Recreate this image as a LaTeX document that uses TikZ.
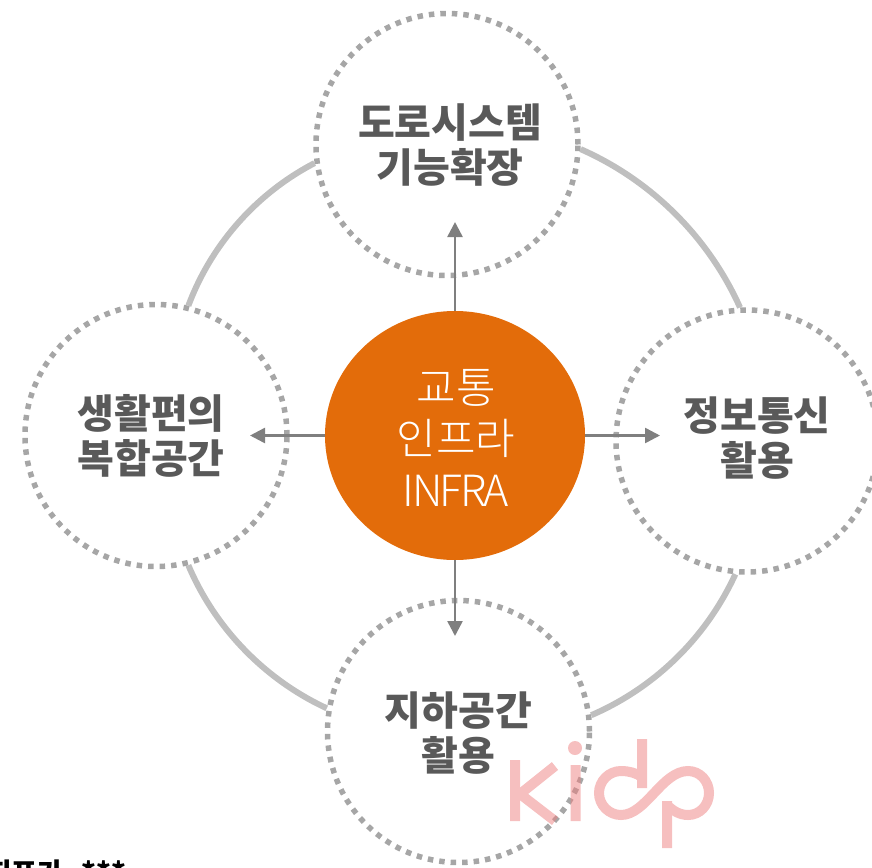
\documentclass[tikz,border=0pt]{standalone}
\usepackage{fontspec}
\setmainfont{Noto Sans CJK KR}
\newfontfamily\hubfont{Noto Sans CJK KR Light}
\newfontfamily\hublatin[LetterSpace=-6]{Noto Sans CJK KR Light}
\usetikzlibrary{positioning}
\usetikzlibrary{arrows.meta}
\usetikzlibrary{shapes.geometric}
\definecolor{hubcolor}{HTML}{E36C0A}
\definecolor{dotcolor}{HTML}{A6A6A6}
\definecolor{ringcolor}{HTML}{BFBFBF}
\definecolor{spokecolor}{HTML}{7F7F7F}
\definecolor{labelcolor}{HTML}{595959}
\definecolor{logocolor}{HTML}{ED7F7F}
\tikzset{
    topic/.style={draw=dotcolor, line width=5.5pt, dash pattern=on 5.5pt off 6pt, circle, minimum size=262pt},
    topictext/.style={align=center, text=labelcolor, font=\fontsize{40pt}{45pt}\selectfont\bfseries},
    hub/.style={fill=hubcolor, ellipse, minimum width=260pt, minimum height=249pt},
    hubtext/.style={align=center, text=white, font=\fontsize{43pt}{51.5pt}\selectfont\hubfont},
    ring/.style={draw=ringcolor, line width=6pt},
    spoke/.style={draw=spokecolor, line width=2.5pt, -{Triangle[length=15pt,width=15pt]}},
    logo/.style={draw=logocolor, line width=10pt}
}
\begin{document}
\begin{tikzpicture}[on grid]
    \useasboundingbox (0,0) rectangle (872pt,-867pt);
    % hub
    \node [hub] (infra) at (455pt,-435.5pt) {};
    \node [hubtext, below right=2pt and 1pt of infra] (infra_text) {교통\\인프라\\{\hublatin INFRA}};
    % topics
    \node [topic, above left=291pt and 8pt of infra] (road) {};
    \node [topic, left=299pt of infra] (life) {};
    \node [topic, below right=5.5pt and 292pt of infra] (ict) {};
    \node [topic, below right=296pt and 3.5pt of infra] (under) {};

    \node [topictext, below right=1pt and 3pt of road] (road_text) {도로시스템\\기능확장};
    \node [topictext, left=5pt of life] (life_text) {생활편의\\복합공간};
    \node [topictext, below right=-3pt and 10pt of ict] (ict_text) {정보통신\\활용};
    \node [topictext, below=2pt of under] (under_text) {지하공간\\활용};

    \coordinate[above=213.5pt of infra] (road_tip);
    \coordinate[left=205pt of infra] (life_tip);
    \coordinate[right=205pt of infra] (ict_tip);
    \coordinate[below=200.5pt of infra] (under_tip);

    % ring
    \draw[ring] (road.-2) to[bend left=21, looseness=.88] (ict.93);
    \draw[ring] (ict.-95) to[bend left=21, looseness=.88] (under.7);
    \draw[ring] (under.170) to[bend left=21, looseness=.88] (life.-76);
    \draw[ring] (life.76) to[bend left=21, looseness=.88] (road.-172);

    % spokes
    \draw[spoke] (infra) -- (road_tip);
    \draw[spoke] (infra) -- (life_tip);
    \draw[spoke] (infra) -- (ict_tip);
    \draw[spoke] (infra) -- (under_tip);

    % cut-off line
    \node [anchor=base west, inner sep=0pt, font=\fontsize{28pt}{28pt}\selectfont\bfseries] (note) at (-14pt,-883pt) {지표가\hspace{12pt} ***};

    % logo
    \begin{scope}[x=1pt,y=-1pt,opacity=.5,transparency group]
        \draw[logo] (515,760) -- (515,821);
        \draw[logo] (555,766) -- (520,794) -- (555,821);
        \draw[logo] (575.5,765) -- (575.5,821);
        \fill[logocolor] (575,748) circle (7);
        \draw[logo] (642,739) -- (642,788);
        \draw[logo] (642,777) .. controls (636,773) and (629,771) .. (621,771)
            .. controls (609,771) and (599,781) .. (599,793)
            .. controls (599,805) and (609,815) .. (621,815)
            .. controls (646,815) and (662,771) .. (688,771)
            .. controls (700,771) and (709,781) .. (709,793)
            .. controls (709,805) and (700,815) .. (688,815)
            .. controls (680,815) and (673,811) .. (667,805);
        \draw[logo] (667,801) -- (667,848);
    \end{scope}
\end{tikzpicture}
\end{document}
